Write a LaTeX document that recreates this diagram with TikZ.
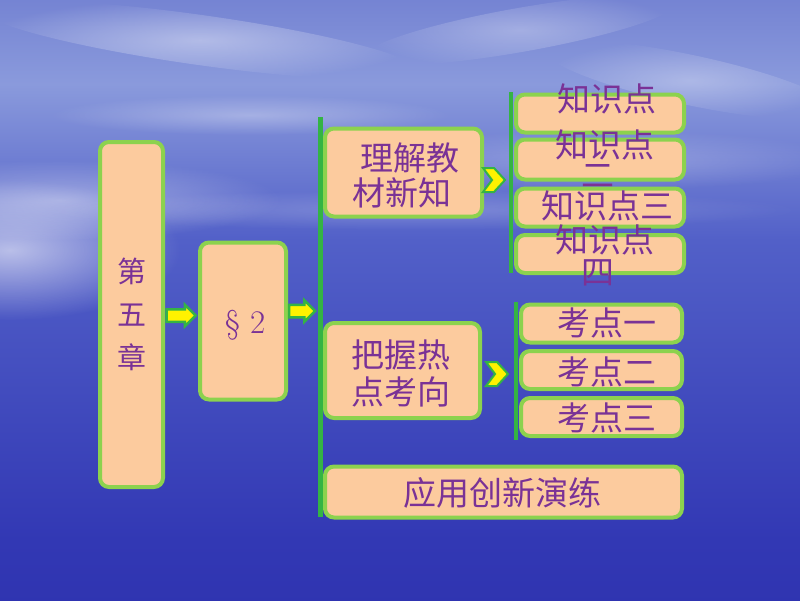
\documentclass[tikz,border=0pt]{standalone}
\usepackage{fontspec}
\newfontfamily\cjk{Noto Sans CJK SC}
\usetikzlibrary{shapes.arrows,fadings,calc}
\definecolor{peach}{HTML}{FCCB9E}
\definecolor{lgreen}{HTML}{8CD24E}
\definecolor{dgreen}{HTML}{34B444}
\definecolor{txt}{HTML}{7A3296}
\definecolor{bgA}{HTML}{2222A0}
\definecolor{bgB}{HTML}{3238B4}
\definecolor{bgC}{HTML}{5260C8}
\definecolor{bgD}{HTML}{8A9ADC}
\definecolor{bgE}{HTML}{6674CC}
\definecolor{bgF}{HTML}{5A66C2}
\pgfdeclareverticalshading{seasky}{100bp}{color(0bp)=(bgA); color(30bp)=(bgB); color(55bp)=(bgC); color(68bp)=(bgD); color(80bp)=(bgE); color(100bp)=(bgF)}
\tikzfading[name=softglow, inner color=transparent!0, outer color=transparent!100]
\tikzset{
  box/.style={draw=lgreen, fill=peach, line width=4pt, rounded corners=9pt, inner sep=0pt},
  lbl/.style={text=txt, font=\cjk\fontsize{33}{36}\selectfont, inner sep=0pt},
  bar/.style={draw=dgreen, line width=5pt},
  sbar/.style={draw=dgreen, line width=4pt},
  barrow/.style={single arrow, draw=dgreen, fill=yellow, line width=2.5pt, inner sep=5pt, single arrow head extend=4.5pt, minimum height=29pt},
  chev/.style={draw=dgreen, fill=yellow, line width=2pt, line join=miter},
  cloud/.style={fill=white, path fading=softglow}
}
\begin{document}
\begin{tikzpicture}[x=1pt,y=-1pt]
\useasboundingbox (0,0) rectangle (800,600);
% background
\shade[shading=seasky] (0,0) rectangle (800,600);
\fill[cloud, opacity=0.6] (10,250) ellipse (170 and 70);
\fill[cloud, opacity=0.4] (60,200) ellipse (220 and 40);
\fill[cloud, opacity=0.4, rotate around={-8:(200,40)}] (200,40) ellipse (220 and 25);
\fill[cloud, opacity=0.3, rotate around={10:(520,30)}] (520,30) ellipse (160 and 22);
\fill[cloud, opacity=0.3, rotate around={-12:(690,80)}] (690,80) ellipse (150 and 25);
\fill[cloud, opacity=0.3] (250,115) ellipse (200 and 20);
\fill[cloud, opacity=0.25] (600,160) ellipse (250 and 30);
\fill[cloud, opacity=0.2] (420,210) ellipse (380 and 20);
% boxes, left side
\node[box, minimum width=63pt, minimum height=345pt] (ch) at (131.5,314.5) {};
\node[lbl, font=\cjk\fontsize{29}{43}\selectfont, align=center] (cht) at (ch.center) {第\\五\\章};
\node[box, minimum width=86pt, minimum height=157pt] (s2) at (243,321) {};
\node[text=txt, font=\fontsize{33}{36}\selectfont, inner sep=0pt] (s2t) at (245,325) {\S\ 2};
\node[barrow] (a1) at (178,315.5) {};
\node[barrow, minimum height=26pt] (a2) at (299,311) {};
% main bar
\coordinate (b1t) at (320,117);
\coordinate (b1b) at (320,517);
\draw[bar] (b1t) -- (b1b);
% middle boxes
\node[box, minimum width=157pt, minimum height=88pt] (lj) at (403.5,172.5) {};
\node[lbl] (ljt1) at (410,158) {理解教};
\node[lbl] (ljt2) at (402,193) {材新知};
\node[box, minimum width=155pt, minimum height=95pt] (bw) at (402.5,370.5) {};
\node[lbl] (bwt1) at (401,355) {把握热};
\node[lbl] (bwt2) at (401,392) {点考向};
\node[box, minimum width=357pt, minimum height=51pt] (yy) at (503.5,492) {};
\node[lbl] (yyt) at (502,493) {应用创新演练};
% chevrons
\draw[chev, shift={(494,180)}] (-11,-12) -- (0,-12) -- (11,0) -- (0,12) -- (-11,12) -- (-2,0) -- cycle;
\draw[chev, shift={(497,374)}] (-11,-12) -- (0,-12) -- (11,0) -- (0,12) -- (-11,12) -- (-2,0) -- cycle;
% knowledge bar and boxes
\coordinate (b2t) at (511,92);
\coordinate (b2b) at (511,273);
\draw[sbar] (b2t) -- (b2b);
\node[box, minimum width=168pt, minimum height=38pt] (k1) at (600,113.5) {};
\node[lbl] (k1t) at (607,99) {知识点};
\node[box, minimum width=168pt, minimum height=40pt] (k2) at (600,159.5) {};
\node[lbl] (k2t) at (605,145) {知识点};
\node[lbl] (k2u) at (598,176) {二};
\node[box, minimum width=168pt, minimum height=38pt] (k3) at (600,207.5) {};
\node[lbl] (k3t) at (607,206) {知识点三};
\node[box, minimum width=168pt, minimum height=38pt] (k4) at (600,254) {};
\node[lbl] (k4t) at (605,240) {知识点};
\node[lbl] (k4u) at (598,273) {四};
% exam bar and boxes
\coordinate (b3t) at (516,302);
\coordinate (b3b) at (516,440);
\draw[sbar] (b3t) -- (b3b);
\node[box, minimum width=161pt, minimum height=38pt] (e1) at (601.5,323.5) {};
\node[lbl] (e1t) at (607,323) {考点一};
\node[box, minimum width=161pt, minimum height=38pt] (e2) at (601.5,370) {};
\node[lbl] (e2t) at (607,372) {考点二};
\node[box, minimum width=161pt, minimum height=38pt] (e3) at (601.5,417) {};
\node[lbl] (e3t) at (607,418) {考点三};
\end{tikzpicture}
\end{document}
